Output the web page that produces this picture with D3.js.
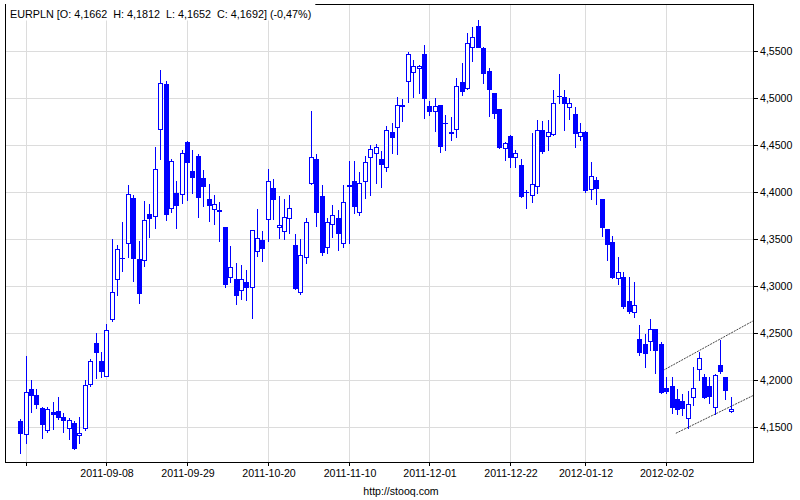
<!DOCTYPE html>
<html><head><meta charset="utf-8">
<script src="https://cdn.jsdelivr.net/npm/d3@7"></script>
<style>body{margin:0;background:#fff}text{font-family:"Liberation Sans",Arial,sans-serif;fill:#000}</style>
</head><body><svg id="c" width="800" height="500"></svg>
<script>
const dates = [
"2011-08-17","2011-08-18","2011-08-19","2011-08-22","2011-08-23","2011-08-24","2011-08-25","2011-08-26","2011-08-29","2011-08-30","2011-08-31",
"2011-09-01","2011-09-02","2011-09-05","2011-09-06","2011-09-07","2011-09-08","2011-09-09","2011-09-12","2011-09-13","2011-09-14","2011-09-15","2011-09-16","2011-09-19","2011-09-20","2011-09-21","2011-09-22","2011-09-23","2011-09-26","2011-09-27","2011-09-28","2011-09-29","2011-09-30",
"2011-10-03","2011-10-04","2011-10-05","2011-10-06","2011-10-07","2011-10-10","2011-10-11","2011-10-12","2011-10-13","2011-10-14","2011-10-17","2011-10-18","2011-10-19","2011-10-20","2011-10-21","2011-10-24","2011-10-25","2011-10-26","2011-10-27","2011-10-28","2011-10-31",
"2011-11-01","2011-11-02","2011-11-03","2011-11-04","2011-11-07","2011-11-08","2011-11-09","2011-11-10","2011-11-11","2011-11-14","2011-11-15","2011-11-16","2011-11-17","2011-11-18","2011-11-21","2011-11-22","2011-11-23","2011-11-24","2011-11-25","2011-11-28","2011-11-29","2011-11-30",
"2011-12-01","2011-12-02","2011-12-05","2011-12-06","2011-12-07","2011-12-08","2011-12-09","2011-12-12","2011-12-13","2011-12-14","2011-12-15","2011-12-16","2011-12-19","2011-12-20","2011-12-21","2011-12-22","2011-12-23","2011-12-27","2011-12-28","2011-12-29","2011-12-30",
"2012-01-02","2012-01-03","2012-01-04","2012-01-05","2012-01-06","2012-01-09","2012-01-10","2012-01-11","2012-01-12","2012-01-13","2012-01-16","2012-01-17","2012-01-18","2012-01-19","2012-01-20","2012-01-23","2012-01-24","2012-01-25","2012-01-26","2012-01-27","2012-01-30","2012-01-31",
"2012-02-01","2012-02-02","2012-02-03","2012-02-06","2012-02-07","2012-02-08","2012-02-09","2012-02-10","2012-02-13","2012-02-14","2012-02-15","2012-02-16","2012-02-17","2012-02-20"];

const open = [4.1561,4.1419,4.1898,4.1837,4.1699,4.1462,4.1656,4.1667,4.1603,4.1483,4.1539,4.1409,4.1489,4.1951,4.2394,4.2202,4.2043,4.2646,4.3068,4.3292,
4.3451,4.3936,4.3281,4.3270,4.3763,4.3738,4.4664,4.5146,4.3823,4.3983,4.3975,4.4529,4.4220,4.4380,4.4143,4.3922,4.3813,4.3805,4.3624,4.3096,
4.3071,4.2951,4.3036,4.2983,4.3369,4.3486,4.3706,4.4039,4.3621,4.3582,4.3717,4.3430,4.2930,4.3302,4.4089,4.4348,4.3954,4.3408,4.3653,4.3717,
4.3451,4.4066,4.4114,4.3787,4.4117,4.4366,4.4408,4.4348,4.4260,4.4632,4.4691,4.4918,4.5174,4.5270,4.5313,4.5462,4.4915,4.4859,4.4922,4.4736,
4.4630,4.4664,4.5167,4.5100,4.5536,4.5766,4.5532,4.5284,4.5047,4.4880,4.4462,4.4593,4.4366,4.4284,4.3992,4.3965,4.4064,4.4656,4.4593,4.4611,
4.5016,4.5004,4.4898,4.4827,4.4593,4.4638,4.4029,4.4124,4.3922,4.3600,4.3462,4.3079,4.3089,4.2837,4.2717,4.2433,4.2380,4.2415,4.2536,4.2380,
4.1909,4.1933,4.1791,4.1777,4.1596,4.1813,4.2111,4.2026,4.1933,4.1706,4.2156,4.2026,4.1662];
const high = [4.1580,4.2252,4.1997,4.1901,4.1710,4.1706,4.1763,4.1816,4.1646,4.1596,4.1561,4.1603,4.1997,4.2220,4.2494,4.2298,4.2589,4.3497,4.3433,4.3674,
4.4071,4.3960,4.3476,4.3901,4.3869,4.4472,4.5295,4.5178,4.4345,4.4114,4.4444,4.4535,4.4444,4.4398,4.4231,4.4082,4.3965,4.3887,4.3628,4.3422,
4.3238,4.3220,4.3167,4.3595,4.3813,4.3582,4.4242,4.4135,4.3954,4.3922,4.3965,4.3550,4.3497,4.3717,4.4859,4.4401,4.4071,4.3717,4.3859,4.3805,
4.4071,4.4327,4.4327,4.4213,4.4380,4.4497,4.4507,4.4433,4.4699,4.4728,4.5004,4.4986,4.5483,4.5401,4.5348,4.5561,4.4960,4.4994,4.4925,4.4816,
4.4798,4.5206,4.5366,4.5685,4.5755,4.5827,4.5535,4.5313,4.5050,4.4885,4.4525,4.4600,4.4444,4.4348,4.4018,4.4621,4.4763,4.4752,4.4763,4.5082,
4.5252,4.5082,4.4994,4.4904,4.4728,4.4645,4.4313,4.4160,4.3925,4.3603,4.3529,4.3302,4.3143,4.3096,4.3043,4.2582,4.2486,4.2646,4.2540,4.2398,
4.2032,4.2032,4.1898,4.1848,4.1883,4.2138,4.2298,4.2061,4.2026,4.2061,4.2422,4.2030,4.1812];
const low = [4.1217,4.1323,4.1660,4.1696,4.1377,4.1440,4.1479,4.1585,4.1447,4.1366,4.1266,4.1330,4.1470,4.1936,4.2015,4.2032,4.2035,4.2628,4.2901,4.3160,
4.3309,4.3053,4.2819,4.3213,4.3521,4.3611,4.4348,4.3696,4.3787,4.3611,4.3877,4.3912,4.3983,4.3734,4.3851,4.3691,4.3653,4.3479,4.2989,4.3043,
4.2805,4.2855,4.2848,4.2660,4.3319,4.3266,4.3479,4.3710,4.3511,4.3497,4.3564,4.2962,4.2910,4.3238,4.4085,4.3638,4.3327,4.3351,4.3521,4.3380,
4.3415,4.3451,4.3770,4.3752,4.3936,4.3965,4.4096,4.4053,4.4223,4.4408,4.4401,4.4752,4.4957,4.5011,4.5053,4.4781,4.4820,4.4649,4.4426,4.4444,
4.4550,4.4585,4.5029,4.5095,4.5394,4.5535,4.5160,4.4805,4.4781,4.4462,4.4337,4.4266,4.4266,4.3940,4.3823,4.3894,4.3983,4.4415,4.4444,4.4605,
4.4940,4.4656,4.4770,4.4479,4.4550,4.4000,4.3919,4.3869,4.3529,4.3273,4.3085,4.3018,4.2760,4.2713,4.2670,4.2263,4.2138,4.2316,4.2068,4.1855,
4.1855,4.1643,4.1632,4.1624,4.1483,4.1731,4.1997,4.1810,4.1749,4.1632,4.2068,4.1791,4.1652];
const close = [4.1436,4.1869,4.1840,4.1738,4.1532,4.1688,4.1638,4.1606,4.1574,4.1571,4.1277,4.1430,4.1940,4.2199,4.2298,4.2096,4.2529,4.2936,4.3387,4.3290,
4.3972,4.3298,4.2919,4.3696,4.3717,4.4241,4.5153,4.3766,4.4327,4.3855,4.4408,4.4319,4.4153,4.3947,4.4064,4.3862,4.3866,4.3800,4.3015,4.3202,
4.2898,4.3068,4.2989,4.3589,4.3504,4.3404,4.4111,4.3919,4.3646,4.3734,4.3823,4.2972,4.3327,4.3681,4.4366,4.3787,4.3362,4.3681,4.3752,4.3564,
4.3894,4.4062,4.3851,4.4089,4.4313,4.4454,4.4472,4.4291,4.4656,4.4585,4.4919,4.4912,4.5462,4.5337,4.5337,4.4994,4.4859,4.4915,4.4486,4.4732,
4.4626,4.5121,4.5074,4.5579,4.5643,4.5543,4.5266,4.5093,4.4834,4.4479,4.4515,4.4372,4.4408,4.3957,4.3996,4.4082,4.4656,4.4433,4.4638,4.4940,
4.5020,4.4947,4.4940,4.4621,4.4632,4.4018,4.4170,4.4036,4.3628,4.3440,4.3089,4.3143,4.2787,4.2731,4.2791,4.2298,4.2287,4.2536,4.2316,4.1872,
4.1883,4.1713,4.1685,4.1696,4.1738,4.1909,4.2228,4.1819,4.1827,4.2047,4.2096,4.1890,4.1692];

const gridDates = ["2011-08-18","2011-09-08","2011-09-29","2011-10-20","2011-11-10","2011-12-01","2011-12-22","2012-01-12","2012-02-02"];
const yTicks = [4.15,4.20,4.25,4.30,4.35,4.40,4.45,4.50,4.55];
const headerText = "EURPLN [O: 4,1662  H: 4,1812  L: 4,1652  C: 4,1692] (-0,47%)";
const footerText = "http://stooq.com";
// channel lines: [candle index, value]
const trendUpper = [[118.8,4.2082],[136,4.2624]];
const trendLower = [[121.7,4.1430],[136,4.1830]];

const svg = d3.select("#c");
const L = 5, R = 753, T = 4, B = 462;
const x = d3.scaleLinear().domain([0, dates.length - 1]).range([20.7, 731.3]);
const y = d3.scaleLinear().domain([4.15, 4.55]).range([426.7, 50.7]);
const blue = "#0000ff", grid = "#dcdcdc";

svg.append("rect").attr("width",800).attr("height",500).attr("fill","#fff");
svg.append("defs").append("clipPath").attr("id","clip").append("rect")
  .attr("x",L).attr("y",T).attr("width",R-L).attr("height",B-T);

const g = svg.append("g").attr("shape-rendering","crispEdges");
g.selectAll(".hg").data(yTicks).enter().append("line")
  .attr("x1",L).attr("x2",R)
  .attr("y1",d=>Math.round(y(d))+0.5).attr("y2",d=>Math.round(y(d))+0.5)
  .attr("stroke",grid);
const gridIdx = gridDates.map(d => dates.indexOf(d));
g.selectAll(".vg").data(gridIdx).enter().append("line")
  .attr("x1",d=>Math.floor(x(d))+0.5).attr("x2",d=>Math.floor(x(d))+0.5)
  .attr("y1",T).attr("y2",B)
  .attr("stroke",grid);

const tl = svg.append("g").attr("clip-path","url(#clip)");
[trendUpper, trendLower].forEach(t => {
  tl.append("line")
    .attr("x1",x(t[0][0])).attr("y1",y(t[0][1]))
    .attr("x2",x(t[1][0])).attr("y2",y(t[1][1]))
    .attr("stroke","#444").attr("stroke-width",1).attr("stroke-dasharray","2,1");
});

const cg = svg.append("g").attr("clip-path","url(#clip)").attr("shape-rendering","crispEdges");
const idx = d3.range(dates.length);
idx.forEach(i => {
  const cx = Math.floor(x(i));
  const o = open[i], c = close[i];
  cg.append("line").attr("x1",cx+0.5).attr("x2",cx+0.5)
    .attr("y1",Math.round(y(high[i]))).attr("y2",Math.round(y(low[i]))+1)
    .attr("stroke",blue);
  const top = Math.round(y(Math.max(o,c))), bot = Math.round(y(Math.min(o,c)));
  if (c < o || bot - top < 2) {
    cg.append("rect").attr("x",cx-2).attr("y",top).attr("width",5)
      .attr("height",Math.max(1,bot-top+1)).attr("fill",blue);
  } else {
    cg.append("rect").attr("x",cx-1.5).attr("y",top+0.5).attr("width",4)
      .attr("height",bot-top).attr("fill","#fff").attr("stroke",blue);
  }
});

g.append("rect").attr("x",L+0.5).attr("y",T+0.5).attr("width",R-L).attr("height",B-T)
  .attr("fill","none").attr("stroke","#000");

const fmt = v => v.toFixed(4).replace(".", ",");
g.selectAll(".yt").data(yTicks).enter().append("line")
  .attr("x1",R).attr("x2",R+5)
  .attr("y1",d=>Math.round(y(d))+0.5).attr("y2",d=>Math.round(y(d))+0.5)
  .attr("stroke","#000");
svg.selectAll(".yl").data(yTicks).enter().append("text")
  .attr("x",760).attr("y",d=>y(d)+4).attr("font-size","10.6px").text(fmt);

g.selectAll(".xt").data(gridIdx).enter().append("line")
  .attr("x1",d=>Math.floor(x(d))+0.5).attr("x2",d=>Math.floor(x(d))+0.5)
  .attr("y1",B).attr("y2",B+4).attr("stroke","#000");
svg.selectAll(".xl").data(gridIdx.filter(d => x(d) - 30 > L)).enter().append("text")
  .attr("x",d=>Math.floor(x(d))+1).attr("y",477).attr("text-anchor","middle")
  .attr("font-size","10.6px").text(d=>dates[d]);

const hb = svg.append("rect").attr("x",L+1).attr("y",0).attr("height",20.5).attr("fill","#fff");
const ht = svg.append("text").attr("x",10).attr("y",18).attr("font-size","10.8px")
  .attr("xml:space","preserve").style("white-space","pre").text(headerText);
hb.attr("width", ht.node().getComputedTextLength() + 8);

svg.append("text").attr("x",401).attr("y",495).attr("text-anchor","middle")
  .attr("font-size","10.6px").text(footerText);
</script></body></html>
